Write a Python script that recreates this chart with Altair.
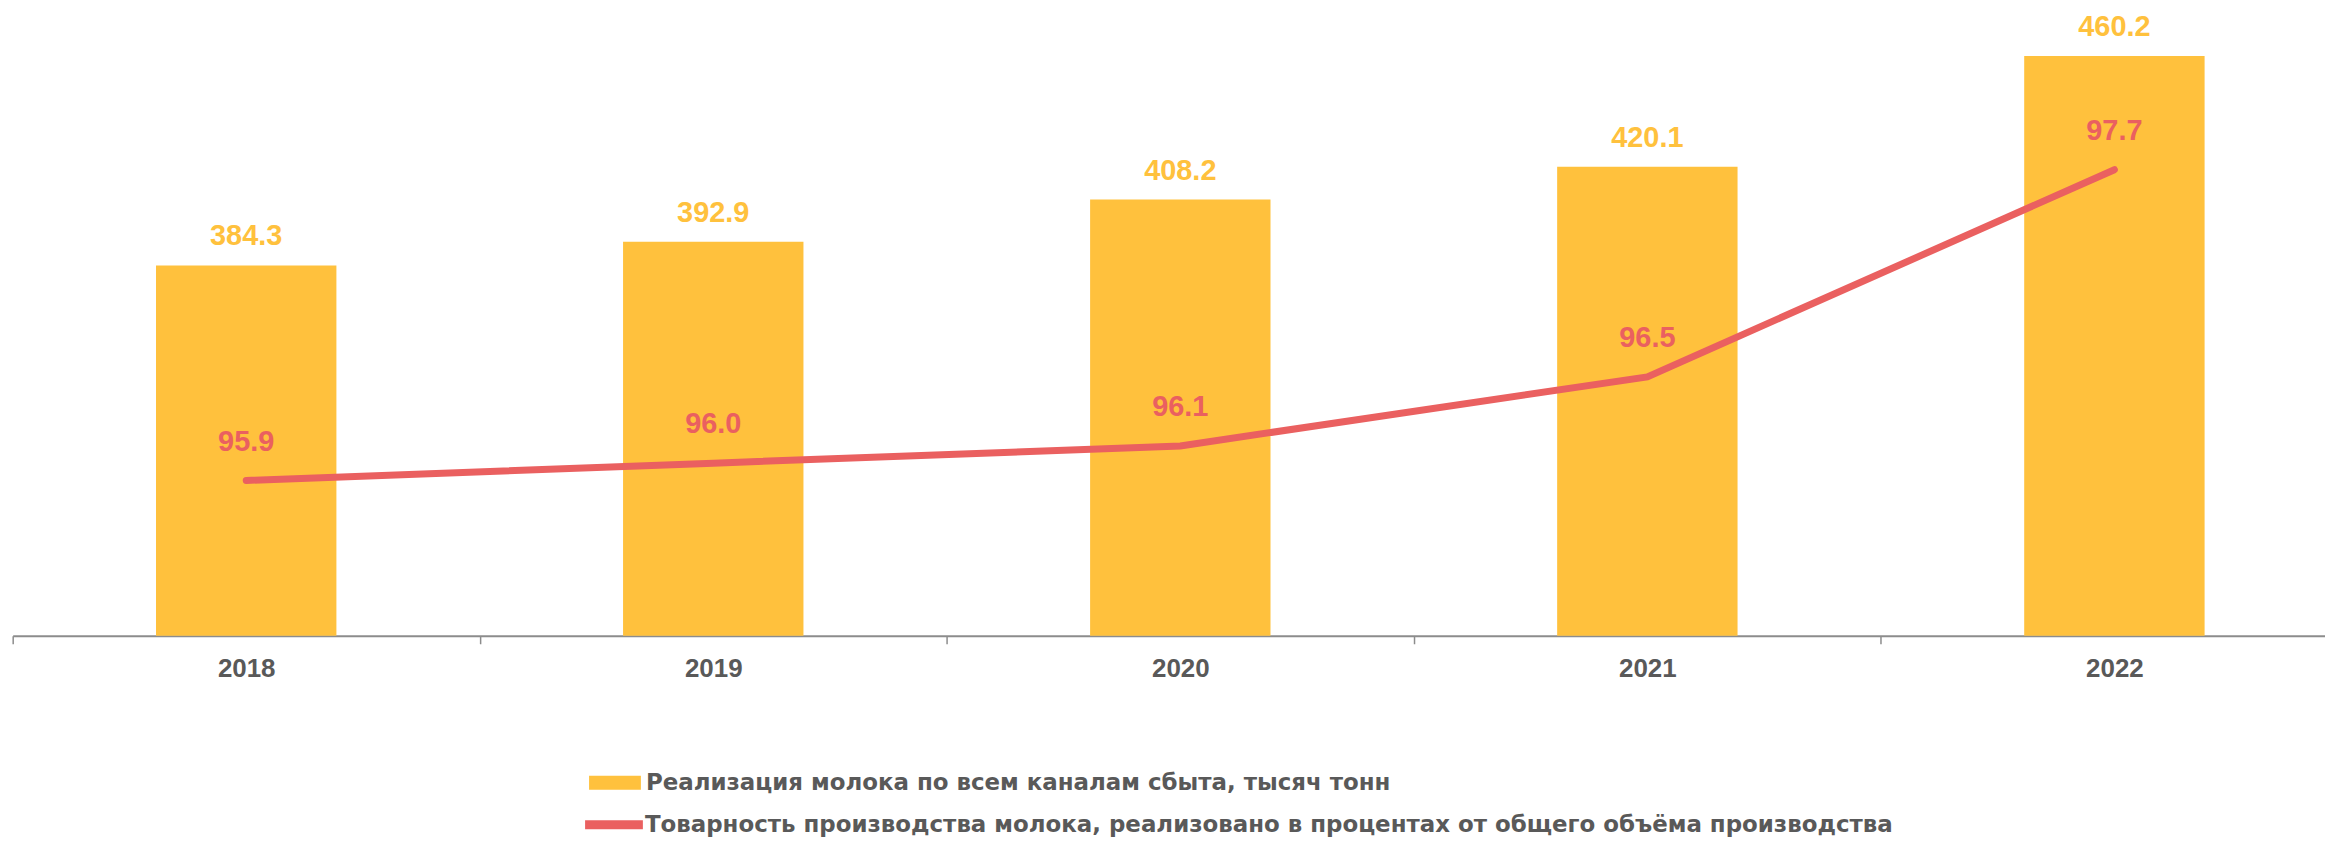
import altair as alt
import pandas as pd

years = ["2018", "2019", "2020", "2021", "2022"]
sales = [384.3, 392.9, 408.2, 420.1, 460.2]
share = [95.9, 96.0, 96.1, 96.5, 97.7]

bar_name = "Реализация молока по всем каналам сбыта, тысяч тонн"
line_name = "Товарность производства молока, реализовано в процентах от общего объёма производства"

df = pd.DataFrame({"year": years, "sales": sales, "share": share,
                   "s1": [bar_name] * 5, "s2": [line_name] * 5})

ORANGE = "#FFC13D"
RED = "#EA6060"
GRAY = "#595959"
FONT = "Liberation Sans"
LFONT = "DejaVu Sans"

W = 2320
H = 628.5

x = alt.X("year:N", sort=years, title=None,
          scale=alt.Scale(paddingInner=0, paddingOuter=0, rangeMax=2343),
          axis=alt.Axis(labelAngle=0, labelFontSize=26, labelFont=FONT, labelFontWeight="bold",
                        labelColor=GRAY, domainColor="#8C8C8C", domainWidth=2,
                        tickColor="#8C8C8C", tickWidth=1.5, tickSize=8, tickBand="extent",
                        labelPadding=12, grid=False))

ybar = alt.Y("sales:Q", scale=alt.Scale(domain=[250, 250 + H / 2.767], zero=False, nice=False),
             axis=None)
yline = alt.Y("share:Q", scale=alt.Scale(domain=[95, 95 + H / 173.2], zero=False, nice=False),
              axis=None)

base = alt.Chart(df)

bars = base.mark_bar(size=181, clip=True).encode(
    x=x, y=ybar,
    color=alt.Color("s1:N", scale=alt.Scale(domain=[bar_name], range=[ORANGE]),
                    legend=alt.Legend(title=None, orient="none", legendX=577.3, legendY=749,
                                      symbolType="M-1,-0.27H1V0.27H-1Z", symbolSize=2704,
                                      labelFontSize=23, labelFont=LFONT, labelFontWeight="bold",
                                      labelColor=GRAY, labelLimit=2000, labelOffset=4,
                                      symbolOpacity=1)))

bar_text = base.mark_text(dy=-29, baseline="middle", fontSize=29, font=FONT,
                          fontWeight="bold", color=ORANGE).encode(
    x=x, y=ybar, text=alt.Text("sales:Q", format=".1f"))

bar_layer = alt.layer(bars, bar_text)

line = base.mark_line(strokeWidth=7, strokeCap="round").encode(
    x=x, y=yline,
    stroke=alt.Stroke("s2:N", scale=alt.Scale(domain=[line_name], range=[RED]),
                      legend=alt.Legend(title=None, orient="none", legendX=572.3, legendY=787,
                                        symbolType="M-1.094,0H1.094", symbolSize=2809,
                                        symbolStrokeWidth=9,
                                        labelFontSize=23, labelFont=LFONT, labelFontWeight="bold",
                                        labelColor=GRAY, labelLimit=2000, labelOffset=0)))

line_text = base.mark_text(dy=-39, baseline="middle", fontSize=29, font=FONT,
                           fontWeight="bold", color=RED).encode(
    x=x, y=yline, text=alt.Text("share:Q", format=".1f"))

line_layer = alt.layer(line, line_text)

chart = alt.layer(bar_layer, line_layer).resolve_scale(
    y="independent", color="independent", stroke="independent"
).properties(
    width=W, height=H,
    autosize=alt.AutoSizeParams(type="none"),
    padding={"left": 4.7, "top": 0, "right": 0, "bottom": 201}
).configure_view(stroke=None)

chart.save("out.html", embed_options={"renderer": "svg", "actions": False})
